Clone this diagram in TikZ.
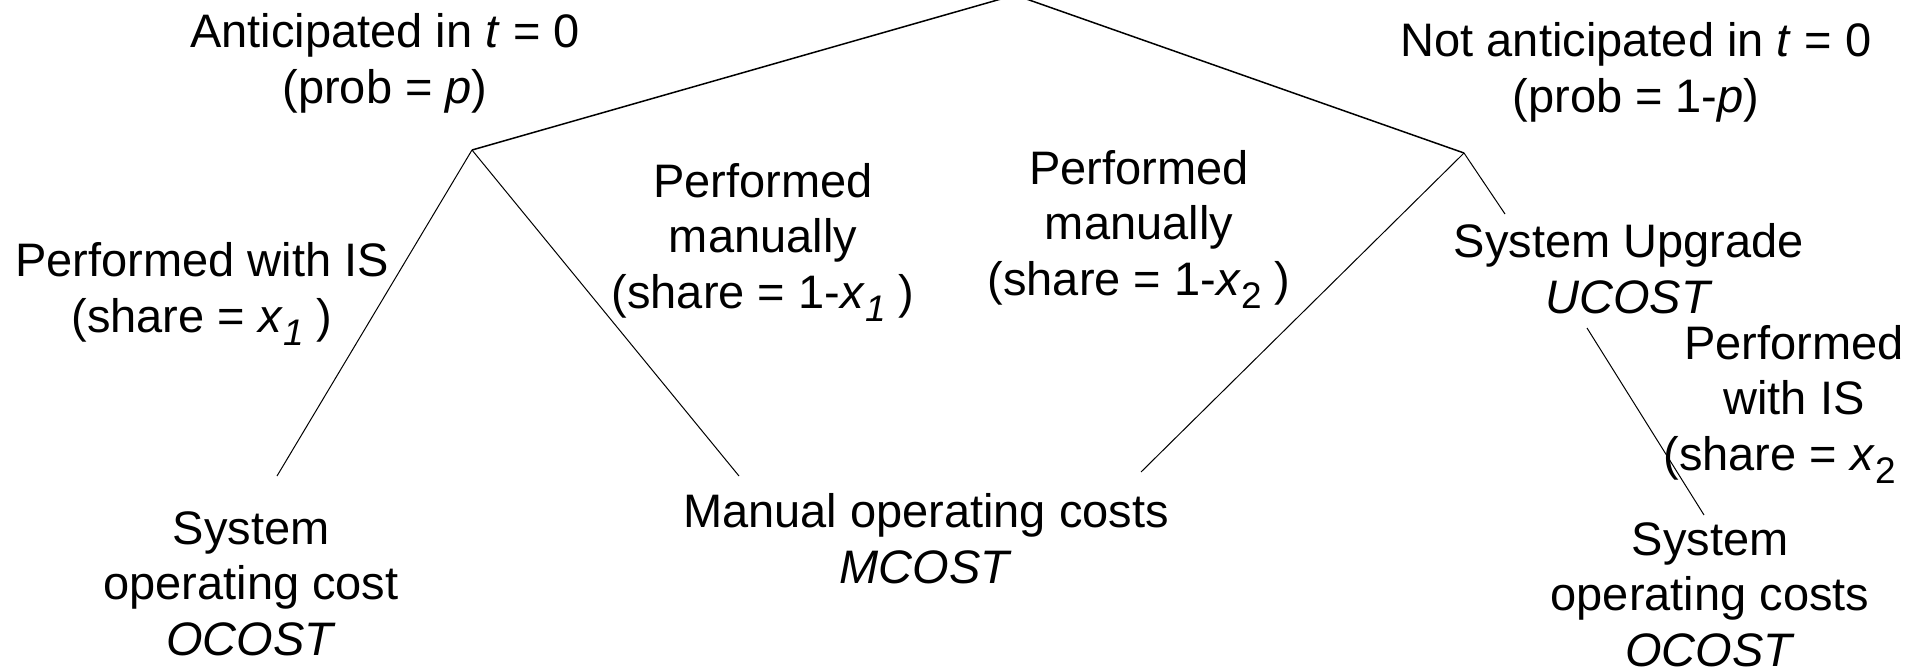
\documentclass[tikz,border=0pt]{standalone}
\usepackage{fontspec}
\setmainfont{Liberation Sans}
% subscript set lower and larger than \textsubscript
\newcommand{\lowsub}[1]{\raisebox{-6.5pt}{\fontsize{18.5}{18.5}\selectfont #1}}
\begin{document}
\begin{tikzpicture}[x=0.5pt,y=-0.5pt,
  % anchor=base sits on the baseline of a label's last line
  lbl/.style={align=center, anchor=base, inner sep=0pt,
    font=\fontsize{23.5}{27.75}\selectfont},
  branch/.style={line width=0.75pt},
  twig/.style={line width=0.5pt}]
\useasboundingbox (0,0) rectangle (1911,671);

% decision points and branch ends
\coordinate (root) at (1015,-5);
\coordinate (ant)  at (472,150);
\coordinate (nant) at (1464,153);
\coordinate (socL) at (277,476);
\coordinate (mcL)  at (739,476);
\coordinate (mcR)  at (1141,472);
\coordinate (upg)  at (1505,214);
\coordinate (upgB) at (1587,328);
\coordinate (socR) at (1704,515);

% labels
\node[lbl] (tAnt)  at (385,103)  {Anticipated in \textit{t} = 0\\(prob = \textit{p})};
\node[lbl] (tNant) at (1636,112) {Not anticipated in \textit{t} = 0\\(prob = 1-\textit{p})};
\node[lbl] (tIS1)  at (202,332)  {Performed with IS\\(share = \textit{x}\lowsub{\textit{1}} )};
\node[lbl] (tMan1) at (763,308)  {Performed\\manually\\(share = 1-\textit{x}\lowsub{\textit{1}} )};
\node[lbl] (tMan2) at (1139,295) {Performed\\manually\\(share = 1-\textit{x}\lowsub{2} )};
\node[lbl] (tUpg)  at (1629,313) {System Upgrade\\\textit{UCOST}};
\node[lbl] (tIS2)  at (1794,470) {Performed\\with IS\\(share = \textit{x}\lowsub{2}\phantom{ )}};
\node[lbl] (tOC1)  at (251,655)  {System\\operating cost\\\textit{OCOST}};
\node[lbl] (tMC)   at (926,583)  {Manual operating costs\\\textit{MCOST}};
\node[lbl] (tOC2)  at (1710,666) {System\\operating costs\\\textit{OCOST}};

% tree branches
\draw[branch] (root) -- (ant);
\draw[branch] (root) -- (nant);
\draw[twig] (ant) -- (socL);
\draw[twig] (ant) -- (mcL);
\draw[twig] (nant) -- (mcR);
\draw[twig] (nant) -- (upg);
\draw[twig] (upgB) -- (socR);
\end{tikzpicture}
\end{document}
